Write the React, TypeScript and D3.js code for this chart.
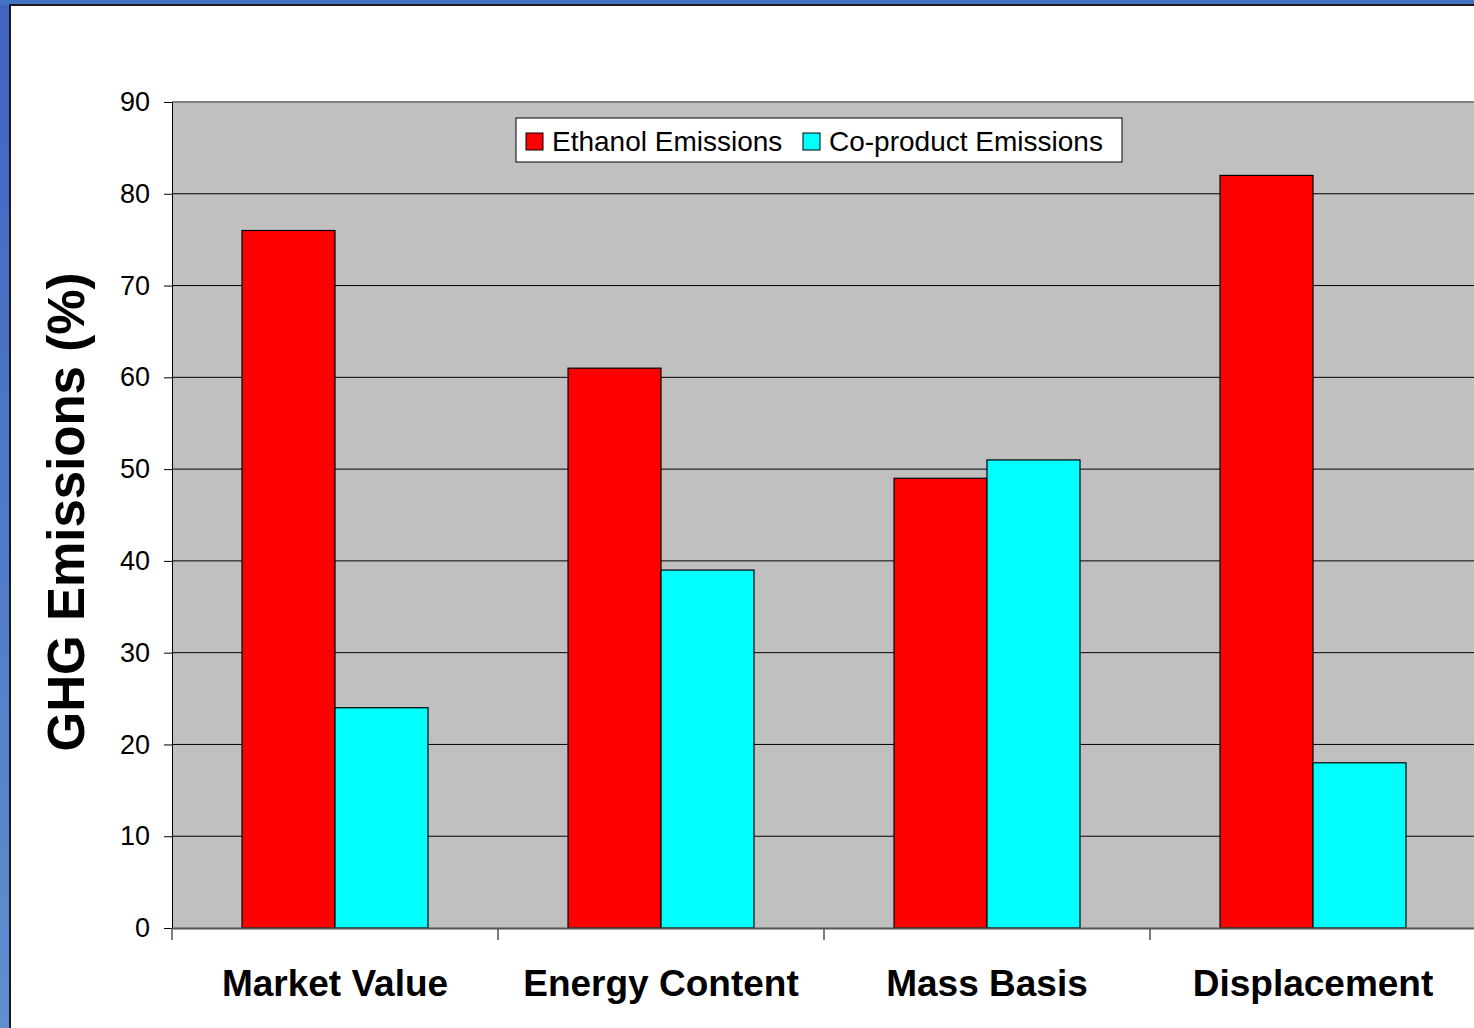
import { useEffect, useRef } from 'react';
import * as d3 from 'd3';

const categories = ['Market Value', 'Energy Content', 'Mass Basis', 'Displacement'];
const seriesNames = ['Ethanol Emissions', 'Co-product Emissions'];
const ethanol = [76, 61, 49, 82];
const coproduct = [24, 39, 51, 18];
const yTicks = [0, 10, 20, 30, 40, 50, 60, 70, 80, 90];
const colors = ['#ff0000', '#00ffff'];

export default function App() {
  const svgRef = useRef<SVGSVGElement>(null);

  useEffect(() => {
    if (!svgRef.current) return;
    const svg = d3.select(svgRef.current);
    svg.selectAll('*').remove();

    const width = 1474;
    const height = 1028;
    const plot = { left: 172, top: 102, right: 1476, bottom: 928 };
    const font = 'Arial, "Liberation Sans", sans-serif';

    // slide frame
    const defs = svg.append('defs');
    const grad = defs.append('linearGradient')
      .attr('id', 'frameGrad').attr('x1', 0).attr('y1', 0).attr('x2', 0).attr('y2', 1);
    grad.append('stop').attr('offset', '0%').attr('stop-color', '#3f64c2');
    grad.append('stop').attr('offset', '100%').attr('stop-color', '#5e8fcf');

    svg.append('rect').attr('width', width).attr('height', height).attr('fill', 'url(#frameGrad)');
    svg.append('rect').attr('x', 0).attr('y', 0).attr('width', width).attr('height', 5).attr('fill', '#4472c4');
    svg.append('rect').attr('x', 9).attr('y', 4).attr('width', width).attr('height', height)
      .attr('fill', '#1a1a1a');
    svg.append('rect').attr('x', 11).attr('y', 6).attr('width', width).attr('height', height)
      .attr('fill', '#ffffff');

    const x0 = d3.scaleBand<string>()
      .domain(categories)
      .range([plot.left, plot.right]);

    const x1 = d3.scaleBand<string>()
      .domain(seriesNames)
      .range([0, x0.bandwidth()])
      .paddingOuter(0.753)
      .paddingInner(0);

    const y = d3.scaleLinear()
      .domain([0, 90])
      .range([plot.bottom, plot.top]);

    // plot background
    svg.append('rect')
      .attr('x', plot.left).attr('y', plot.top)
      .attr('width', plot.right - plot.left).attr('height', plot.bottom - plot.top)
      .attr('fill', '#c0c0c0');

    // gridlines
    svg.append('g')
      .selectAll('line')
      .data(yTicks.filter(d => d > 0))
      .enter()
      .append('line')
      .attr('x1', plot.left).attr('x2', plot.right)
      .attr('y1', d => y(d)).attr('y2', d => y(d))
      .attr('stroke', d => (d === 90 ? '#808080' : '#000000'))
      .attr('stroke-width', d => (d === 90 ? 2 : 1));

    // bars
    const data = categories.map((c, i) => ({ c, vals: [ethanol[i], coproduct[i]] }));
    const groups = svg.append('g')
      .selectAll('g')
      .data(data)
      .enter()
      .append('g')
      .attr('transform', d => `translate(${x0(d.c)},0)`);

    groups.selectAll('rect')
      .data(d => d.vals.map((v, j) => ({ v, s: seriesNames[j], j })))
      .enter()
      .append('rect')
      .attr('x', d => x1(d.s) as number)
      .attr('y', d => y(d.v))
      .attr('width', x1.bandwidth())
      .attr('height', d => plot.bottom - y(d.v))
      .attr('fill', d => colors[d.j])
      .attr('stroke', '#000')
      .attr('stroke-width', 1.2);

    // y axis
    const yAxis = svg.append('g')
      .attr('transform', `translate(${plot.left},0)`)
      .call(d3.axisLeft(y).tickValues(yTicks).tickSize(8).tickPadding(14).tickFormat(d3.format('d')));
    yAxis.select('.domain').attr('stroke', '#000').attr('stroke-width', 1);
    yAxis.selectAll('.tick line').attr('stroke', '#000');
    yAxis.selectAll('.tick text')
      .attr('font-family', font)
      .attr('font-size', 27)
      .attr('fill', '#000');

    // x axis
    const xAxis = svg.append('g')
      .attr('transform', `translate(0,${plot.bottom})`)
      .call(d3.axisBottom(x0).tickSize(0).tickPadding(42));
    xAxis.select('.domain').attr('stroke', '#555').attr('stroke-width', 2);
    xAxis.selectAll('.tick text')
      .attr('font-family', font)
      .attr('font-size', 37)
      .attr('font-weight', 'bold')
      .attr('fill', '#000');

    svg.append('g')
      .selectAll('line')
      .data(categories)
      .enter()
      .append('line')
      .attr('x1', d => x0(d) as number).attr('x2', d => x0(d) as number)
      .attr('y1', plot.bottom).attr('y2', plot.bottom + 12)
      .attr('stroke', '#555').attr('stroke-width', 1.5);

    // y title
    svg.append('text')
      .attr('transform', `translate(84,${(plot.top + plot.bottom) / 2 - 3}) rotate(-90)`)
      .attr('text-anchor', 'middle')
      .attr('font-family', font)
      .attr('font-size', 51)
      .attr('font-weight', 'bold')
      .text('GHG Emissions (%)');

    // legend
    const legend = svg.append('g').attr('transform', 'translate(516,118)');
    legend.append('rect')
      .attr('width', 606).attr('height', 44)
      .attr('fill', '#fff').attr('stroke', '#000').attr('stroke-width', 1);
    const items = [
      { name: seriesNames[0], x: 10, color: colors[0] },
      { name: seriesNames[1], x: 287, color: colors[1] },
    ];
    items.forEach(it => {
      legend.append('rect')
        .attr('x', it.x).attr('y', 15).attr('width', 17).attr('height', 17)
        .attr('fill', it.color).attr('stroke', '#000').attr('stroke-width', 1);
      legend.append('text')
        .attr('x', it.x + 26).attr('y', 33)
        .attr('font-family', font)
        .attr('font-size', 28)
        .text(it.name);
    });
  }, []);

  return (
    <svg
      ref={svgRef}
      width={1474}
      height={1028}
      style={{ position: 'absolute', left: 0, top: 0 }}
    />
  );
}
